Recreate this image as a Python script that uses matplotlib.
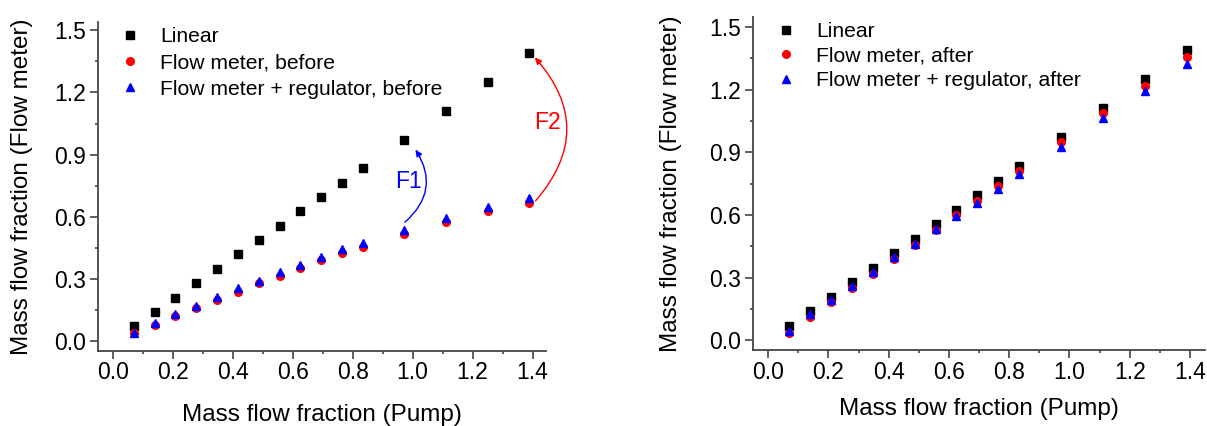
import numpy as np
import matplotlib
matplotlib.use('Agg')
import matplotlib.pyplot as plt
from matplotlib.patches import FancyArrowPatch
from matplotlib.ticker import MultipleLocator

plt.rcParams['font.family'] = ['Liberation Sans', 'DejaVu Sans']

# Mass flow fraction set on the pump
pump = [0.069, 0.139, 0.208, 0.278, 0.347, 0.417, 0.486, 0.556,
        0.625, 0.694, 0.764, 0.833, 0.972, 1.111, 1.250, 1.389]
linear = pump

# before calibration
meter_before = [0.035, 0.076, 0.119, 0.156, 0.196, 0.237, 0.277, 0.312,
                0.350, 0.390, 0.425, 0.454, 0.518, 0.575, 0.626, 0.668]
regulator_before = [0.035, 0.084, 0.129, 0.167, 0.212, 0.253, 0.290, 0.333,
                    0.365, 0.406, 0.441, 0.473, 0.534, 0.595, 0.647, 0.690]

# after calibration
meter_after = [0.035, 0.112, 0.181, 0.248, 0.317, 0.387, 0.456, 0.528,
               0.600, 0.667, 0.739, 0.808, 0.947, 1.087, 1.220, 1.356]
regulator_after = [0.043, 0.123, 0.192, 0.259, 0.328, 0.397, 0.459, 0.534,
                   0.595, 0.659, 0.726, 0.796, 0.924, 1.063, 1.196, 1.324]

fig = plt.figure(figsize=(12.07, 4.26), dpi=100)
ax1 = fig.add_axes([0.0812, 0.176, 0.3712, 0.772])
ax2 = fig.add_axes([0.6239, 0.178, 0.3745, 0.782])

spine_col = '#444444'


def style_axes(ax, ylim):
    ax.set_xlim(-0.05, 1.445)
    ax.set_ylim(*ylim)
    for s in ['top', 'right']:
        ax.spines[s].set_visible(False)
    for s in ['left', 'bottom']:
        ax.spines[s].set_color(spine_col)
        ax.spines[s].set_linewidth(1.3)
    ax.xaxis.set_major_locator(MultipleLocator(0.2))
    ax.xaxis.set_minor_locator(MultipleLocator(0.1))
    ax.yaxis.set_major_locator(MultipleLocator(0.3))
    ax.yaxis.set_minor_locator(MultipleLocator(0.15))
    ax.xaxis.set_major_formatter('{x:.1f}')
    ax.yaxis.set_major_formatter('{x:.1f}')
    ax.tick_params(which='major', direction='out', length=5.5, width=1.2,
                   color=spine_col, labelsize=16.5)
    ax.tick_params(which='minor', direction='out', length=2.5, width=1.2,
                   color=spine_col)
    ax.tick_params(axis='y', pad=3)
    ax.tick_params(axis='x', pad=2)
    ax.set_xlabel('Mass flow fraction (Pump)', fontsize=17.5)
    ax.set_ylabel('Mass flow fraction (Flow meter)', fontsize=17.5)


ms = 5.5
leg_kw = dict(loc='upper left', frameon=False, fontsize=15.2, handlelength=1.0,
              handletextpad=0.93, borderpad=0, borderaxespad=0)

# left panel: before
ax1.plot(pump, linear, 's', color='black', ms=ms, label='Linear')
ax1.plot(pump, meter_before, 'o', color='red', ms=ms, label='Flow meter, before')
ax1.plot(pump, regulator_before, '^', color='blue', ms=ms + 0.5,
         label='Flow meter + regulator, before')
style_axes(ax1, (-0.05, 1.54))
ax1.yaxis.set_label_coords(-0.144, 0.5)
ax1.xaxis.set_label_coords(0.5, -0.161)
ax1.legend(bbox_to_anchor=(0.048, 0.985), labelspacing=0.35, **leg_kw)

# arrows showing the calibration factors
arr1 = FancyArrowPatch((0.967, 0.564), (1.004, 0.936), connectionstyle='arc3,rad=0.45',
                       arrowstyle='-|>,head_length=4,head_width=1.8',
                       color='blue', lw=1.0, mutation_scale=1, clip_on=False)
ax1.add_patch(arr1)
arr2 = FancyArrowPatch((1.404, 0.666), (1.401, 1.38), connectionstyle='arc3,rad=0.45',
                       arrowstyle='-|>,head_length=4,head_width=1.8',
                       color='red', lw=1.0, mutation_scale=1, clip_on=False)
ax1.add_patch(arr2)
ax1.text(0.985, 0.77, 'F1', color='blue', fontsize=16.5, ha='center', va='center')
ax1.text(1.448, 1.056, 'F2', color='red', fontsize=16.5, ha='center', va='center')

# right panel: after
ax2.plot(pump, linear, 's', color='black', ms=ms, label='Linear')
ax2.plot(pump, meter_after, 'o', color='red', ms=ms, label='Flow meter, after')
ax2.plot(pump, regulator_after, '^', color='blue', ms=ms + 0.5,
         label='Flow meter + regulator, after')
style_axes(ax2, (-0.048, 1.548))
ax2.set_xlim(-0.05, 1.45)
ax2.yaxis.set_label_coords(-0.157, 0.5)
ax2.xaxis.set_label_coords(0.5, -0.144)
ax2.legend(bbox_to_anchor=(0.049, 0.985), labelspacing=0.27, **leg_kw)

fig.savefig('out.png', dpi=100)
